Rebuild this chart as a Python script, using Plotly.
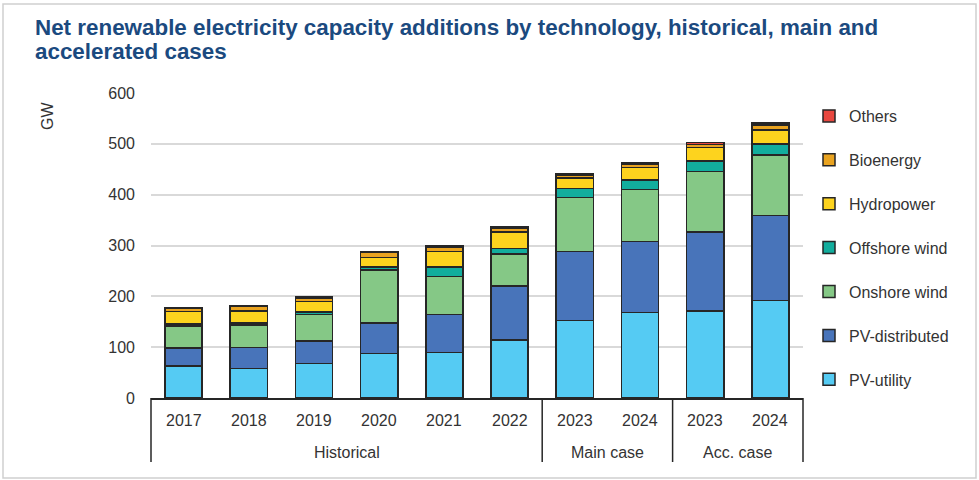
import plotly.graph_objects as go

groups = ["Historical"] * 6 + ["Main case"] * 2 + ["Acc. case"] * 2
years = ["2017", "2018", "2019", "2020", "2021", "2022", "2023", "2024", "2023", "2024"]

pv_utility = [63, 58, 68, 88, 90, 114, 152, 168, 171, 192]
pv_distributed = [35, 41, 44, 60, 74, 106, 136, 140, 156, 167]
onshore_wind = [44, 45, 52, 104, 75, 63, 106, 102, 119, 119]
offshore_wind = [4, 4, 5, 6, 19, 11, 18, 19, 20, 22]
hydropower = [24, 23, 21, 18, 30, 33, 21, 24, 27, 27]
bioenergy = [6, 9, 6, 10, 8, 7, 6, 7, 6, 10]
others = [2, 2, 3, 1, 3, 2, 3, 3, 4, 4]

series = [
    ("PV-utility", pv_utility, "#55CBF3"),
    ("PV-distributed", pv_distributed, "#4874BA"),
    ("Onshore wind", onshore_wind, "#85C886"),
    ("Offshore wind", offshore_wind, "#12AD9D"),
    ("Hydropower", hydropower, "#FDD31E"),
    ("Bioenergy", bioenergy, "#E9A320"),
    ("Others", others, "#E8473F"),
]

FONT = "Liberation Sans, Arial, sans-serif"
TXT = "#333333"

fig = go.Figure()
n_series = len(series)
for k, (name, vals, col) in enumerate(series):
    fig.add_trace(go.Bar(
        x=[groups, years], y=vals, name=name,
        marker=dict(color=col, line=dict(color="#262626", width=1.5)),
        legendgroup=name, legendrank=n_series - k,
    ))

W, H = 979, 480
ml, mr, mt, mb = 151, 176, 93, 82
pw, ph = W - ml - mr, H - mt - mb


def px_x(x):
    return (x - ml) / pw


def px_y(y):
    return (H - mb - y) / ph


fig.update_layout(
    width=W, height=H,
    margin=dict(l=ml, r=mr, t=mt, b=mb, autoexpand=False),
    barmode="stack",
    bargap=0.43,
    plot_bgcolor="white",
    paper_bgcolor="white",
    font=dict(family=FONT, size=16, color=TXT),
    legend=dict(
        x=px_x(809), xanchor="left", y=px_y(99), yanchor="top",
        traceorder="grouped", tracegroupgap=20.1,
        font=dict(size=16, color=TXT),
        itemwidth=30,
    ),
    showlegend=True,
)

fig.update_yaxes(
    range=[0, 600], dtick=100, showgrid=True, gridcolor="#D9D9D9", gridwidth=1.5,
    zeroline=False, showline=False, ticks="", ticklabelstandoff=15,
    tickfont=dict(size=16, color=TXT), automargin=False,
)
fig.update_xaxes(
    type="multicategory", showline=True, linecolor="#262626", linewidth=1.5,
    showdividers=False, showticklabels=False, ticks="", automargin=False,
)

# Title (two lines)
fig.add_annotation(text="<b>Net renewable electricity capacity additions by technology, historical, main and</b>",
                   xref="paper", yref="paper", x=px_x(33), y=px_y(27), xanchor="left", yanchor="middle",
                   showarrow=False, font=dict(family=FONT, size=22.4, color="#1B4A7F"))
fig.add_annotation(text="<b>accelerated cases</b>",
                   xref="paper", yref="paper", x=px_x(33), y=px_y(52), xanchor="left", yanchor="middle",
                   showarrow=False, font=dict(family=FONT, size=22.4, color="#1B4A7F"))

# Y-axis unit label
fig.add_annotation(text="GW", xref="paper", yref="paper", x=px_x(48), y=px_y(116),
                   xanchor="center", yanchor="middle", textangle=-90, showarrow=False,
                   font=dict(family=FONT, size=16, color=TXT))

# Category labels (two-level axis) derived from the category arrays
N = len(years)
for i, yr in enumerate(years):
    fig.add_annotation(text=yr, xref="paper", yref="paper", x=(i + 0.5) / N, y=px_y(420),
                       xanchor="center", yanchor="middle", showarrow=False,
                       font=dict(family=FONT, size=16, color=TXT))

bounds = [0]
for i in range(1, N):
    if groups[i] != groups[i - 1]:
        bounds.append(i)
bounds.append(N)
for a, b in zip(bounds[:-1], bounds[1:]):
    fig.add_annotation(text=groups[a], xref="paper", yref="paper", x=(a + b) / 2 / N, y=px_y(452),
                       xanchor="center", yanchor="middle", showarrow=False,
                       font=dict(family=FONT, size=16, color=TXT))
for bnd in bounds:
    fig.add_shape(type="line", xref="paper", yref="paper", x0=bnd / N, x1=bnd / N,
                  y0=0, y1=px_y(462), line=dict(color="#262626", width=1.5))

# Outer frame
fig.add_shape(type="rect", xref="paper", yref="paper",
              x0=px_x(3), x1=px_x(976), y0=px_y(478), y1=px_y(4),
              line=dict(color="#D0D0D0", width=1.5), layer="below")

fig.write_html("out.html", config={"displayModeBar": False},
               post_script="document.body.style.margin='0';")
